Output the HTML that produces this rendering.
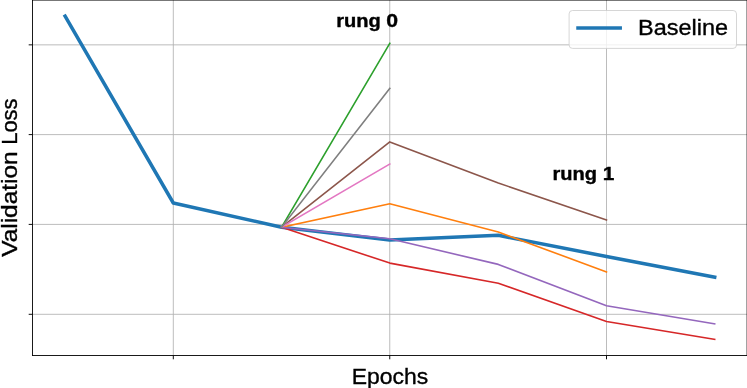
<!DOCTYPE html>
<html>
<head>
<meta charset="utf-8">
<title>Validation Loss vs Epochs</title>
<style>
  html, body { margin: 0; padding: 0; background: #ffffff; }
  body { width: 747px; height: 388px; overflow: hidden; }
  svg { display: block; will-change: transform; }
  text { font-family: "Liberation Sans", sans-serif; fill: #000000; stroke: #000000; stroke-width: 0.35px; }
  .grid line { stroke: #b0b0b0; stroke-width: 0.85; }
  .spine line { stroke: #000000; stroke-width: 0.9; }
  .ticks line { stroke: #000000; stroke-width: 0.95; }
  .series polyline { fill: none; stroke-width: 1.6; stroke-linecap: square; stroke-linejoin: round; }
</style>
</head>
<body>
<svg width="747" height="388" viewBox="0 0 747 388">
  <rect x="0" y="0" width="747" height="388" fill="#ffffff"/>

  <!-- grid -->
  <g class="grid">
    <line x1="173.3" y1="0" x2="173.3" y2="355.5"/>
    <line x1="389.75" y1="0" x2="389.75" y2="355.5"/>
    <line x1="606.5" y1="0" x2="606.5" y2="355.5"/>
    <line x1="32.5" y1="44.85" x2="747" y2="44.85"/>
    <line x1="32.5" y1="134.6" x2="747" y2="134.6"/>
    <line x1="32.5" y1="224.4" x2="747" y2="224.4"/>
    <line x1="32.5" y1="314.3" x2="747" y2="314.3"/>
  </g>

  <!-- series -->
  <g class="series">
    <polyline stroke="#1f77b4" style="stroke-width:3.5" points="65.1,16.2 173.3,203.0 281.6,227.2 389.8,240.1 498.3,235.3 606.5,256.5 714.7,277.2"/>
    <polyline stroke="#ff7f0e" points="281.6,227.2 389.8,203.8 498.3,232.0 606.5,271.9"/>
    <polyline stroke="#2ca02c" points="281.6,227.2 389.8,43.4"/>
    <polyline stroke="#d62728" points="281.6,227.2 389.8,263.1 498.3,283.2 606.5,321.5 714.7,339.3"/>
    <polyline stroke="#9467bd" points="281.6,227.2 389.8,238.8 498.3,264.4 606.5,305.7 714.7,323.8"/>
    <polyline stroke="#8c564b" points="281.6,227.2 389.8,141.9 498.3,183.0 606.5,219.9"/>
    <polyline stroke="#e377c2" points="281.6,227.2 389.8,164.0"/>
    <polyline stroke="#7f7f7f" points="281.6,227.2 389.8,88.3"/>
  </g>

  <!-- ticks -->
  <g class="ticks">
    <line x1="173.3" y1="355.5" x2="173.3" y2="359.3"/>
    <line x1="389.75" y1="355.5" x2="389.75" y2="359.3"/>
    <line x1="606.5" y1="355.5" x2="606.5" y2="359.3"/>
    <line x1="28.7" y1="44.85" x2="32.5" y2="44.85"/>
    <line x1="28.7" y1="134.6" x2="32.5" y2="134.6"/>
    <line x1="28.7" y1="224.4" x2="32.5" y2="224.4"/>
    <line x1="28.7" y1="314.3" x2="32.5" y2="314.3"/>
  </g>

  <!-- spines -->
  <g class="spine">
    <line x1="32.5" y1="0" x2="32.5" y2="355.95"/>
    <line x1="747.1" y1="0" x2="747.1" y2="355.95"/>
    <line x1="32.05" y1="355.5" x2="747" y2="355.5"/>
    <line x1="32.05" y1="0.1" x2="747" y2="0.1"/>
  </g>

  <!-- annotations -->
  <text y="26.7" font-size="17.5" font-weight="bold"><tspan x="336.2" textLength="44.6" lengthAdjust="spacingAndGlyphs">rung</tspan> <tspan x="386.2" textLength="11.8" lengthAdjust="spacingAndGlyphs">0</tspan></text>
  <text y="179.8" font-size="17.5" font-weight="bold"><tspan x="552.5" textLength="44.6" lengthAdjust="spacingAndGlyphs">rung</tspan> <tspan x="602.8" textLength="11.6" lengthAdjust="spacingAndGlyphs">1</tspan></text>

  <!-- legend -->
  <rect x="569.1" y="10.5" width="167.4" height="37.9" rx="3.4" ry="3.4" fill="#ffffff" fill-opacity="0.8" stroke="#cccccc" stroke-opacity="0.8" stroke-width="1"/>
  <line x1="578.0" y1="28" x2="620.2" y2="28" stroke="#1f77b4" stroke-width="3.5" stroke-linecap="square"/>
  <text x="638" y="34.8" font-size="22" textLength="90" lengthAdjust="spacingAndGlyphs">Baseline</text>

  <!-- axis labels -->
  <text x="351.8" y="383.6" font-size="22" textLength="76.5" lengthAdjust="spacingAndGlyphs">Epochs</text>
  <text transform="translate(16.6,257.2) rotate(-90)" font-size="22"><tspan x="0.4" y="0" textLength="105.5" lengthAdjust="spacingAndGlyphs">Validation</tspan> <tspan x="112.4" y="0" textLength="46.3" lengthAdjust="spacingAndGlyphs">Loss</tspan></text>
</svg>
</body>
</html>
